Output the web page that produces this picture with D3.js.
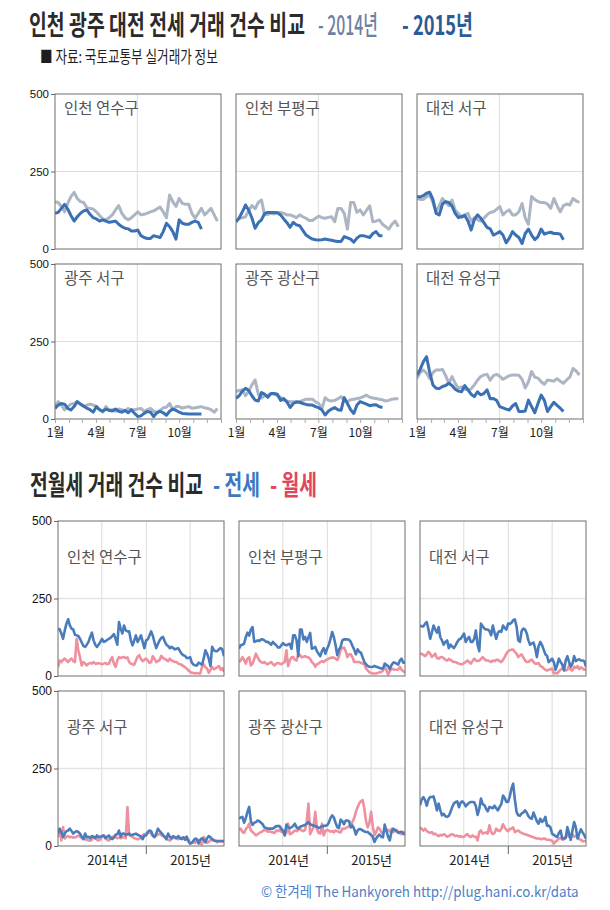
<!DOCTYPE html>
<html><head><meta charset="utf-8">
<script src="https://cdn.jsdelivr.net/npm/d3@7"></script>
<style>
body{margin:0;background:#fff;}
svg{display:block;}
text{font-family:"Noto Sans CJK KR","Liberation Sans",sans-serif;}
.num{font-family:"Liberation Sans","Noto Sans CJK KR",sans-serif;}
</style></head>
<body>
<svg id="chart" width="610" height="910"></svg>
<script>
// ---------- data ----------
const districts = ["인천 연수구","인천 부평구","대전 서구","광주 서구","광주 광산구","대전 유성구"];
const monthLabels = ["1월","4월","7월","10월"];
const yearLabels = ["2014년","2015년"];
const yTicks = [0,250,500];

// weekly 전세 counts, 2014 (52 weeks)
const jeonse2014_yeonsu   = [153,150,137,120,147,169,183,163,153,150,133,131,129,120,108,97,94,101,110,126,140,115,101,94,101,110,120,110,112,116,120,123,129,135,120,101,174,153,137,163,147,144,144,115,99,115,131,110,120,131,110,90];
const jeonse2014_bupyeong = [88,99,101,104,125,140,130,150,158,110,112,115,113,118,118,115,110,110,106,101,110,104,99,92,92,99,106,101,99,102,104,88,131,131,115,64,150,150,118,126,110,125,139,88,90,94,80,72,64,80,90,72];
const jeonse2014_djseo    = [163,160,160,169,174,150,120,140,163,150,140,158,125,115,101,110,115,90,101,95,90,99,110,118,120,128,137,110,120,126,110,110,120,147,100,80,169,160,153,150,150,145,131,163,140,120,140,145,142,163,155,150];
const jeonse2014_gjseo    = [40,56,45,29,40,48,50,56,48,40,45,48,45,40,30,22,40,28,30,25,32,30,25,34,28,30,32,34,25,30,34,25,22,28,36,38,50,30,40,40,35,38,40,35,36,38,40,36,34,30,22,34];
const jeonse2014_gwangsan = [88,92,94,75,90,110,126,80,68,75,77,82,80,75,70,60,58,56,56,56,56,60,64,64,64,55,50,34,69,60,58,60,65,72,60,56,62,64,66,68,72,77,70,68,66,64,62,58,60,64,65,65];
const jeonse2014_yuseong  = [131,150,158,148,130,150,158,158,160,140,115,137,115,99,104,96,94,97,110,125,137,142,144,125,140,144,138,128,134,140,142,142,141,128,100,120,153,135,132,120,112,126,124,122,130,122,115,126,135,163,155,142];

// weekly 전세 counts, 2015 (47 weeks)
const jeonse2015_yeonsu   = [115,118,131,144,129,108,90,104,115,123,126,112,101,97,90,94,90,86,88,90,80,72,67,65,58,58,61,43,37,34,34,43,40,37,56,83,72,56,32,94,83,80,80,86,90,86,64];
const jeonse2015_bupyeong = [88,100,120,142,125,100,67,85,94,115,118,118,118,117,110,97,85,70,86,78,75,60,45,38,32,30,29,30,32,30,28,26,24,24,40,36,32,22,35,43,43,40,37,50,56,43,43];
const jeonse2015_djseo    = [169,168,172,180,183,160,115,110,145,153,150,138,115,101,105,108,90,61,95,110,100,85,70,65,45,50,56,45,20,35,56,45,37,18,50,64,45,30,40,64,48,52,54,50,50,48,30];
const jeonse2015_gjseo    = [34,45,50,48,34,29,40,56,48,42,35,30,22,40,30,25,32,28,26,32,25,22,28,20,30,18,8,10,18,24,22,8,20,25,20,12,25,32,28,22,18,17,16,16,16,16,16];
const jeonse2015_gwangsan = [67,75,90,99,92,75,61,58,85,80,70,82,82,80,60,66,55,37,50,55,54,50,47,45,45,40,36,29,13,25,32,37,30,28,69,50,30,18,45,56,52,48,43,45,46,40,37];
const jeonse2015_yuseong  = [142,160,185,201,150,110,99,98,105,108,115,108,96,90,88,108,94,80,72,88,78,82,94,65,66,60,40,36,32,29,42,50,24,24,26,61,40,20,50,77,60,24,40,54,44,35,24];

// weekly 월세 counts, 2014-01 to 2015-11 (99 weeks)
const wolse_yeonsu   = [29,50,45,52,56,50,45,52,56,48,45,120,83,60,34,45,40,34,40,42,40,45,40,40,42,40,38,40,42,38,40,52,61,40,29,50,61,58,60,61,58,60,45,40,38,36,50,62,67,55,48,52,56,50,42,45,64,55,45,48,52,65,58,55,52,48,56,50,48,45,45,40,38,36,32,28,24,18,13,10,10,8,10,8,8,30,38,28,24,10,20,29,22,24,28,32,20,25,14];
const wolse_bupyeong = [45,50,61,52,40,56,61,34,40,55,72,60,50,45,42,45,40,38,42,45,38,34,40,42,40,38,42,45,83,32,50,60,61,52,50,70,68,60,62,64,61,60,55,45,40,30,38,40,45,48,45,50,53,56,58,60,59,56,52,62,85,90,92,80,61,70,70,60,45,45,45,45,42,40,38,24,18,12,10,8,8,8,10,12,13,18,29,20,5,15,24,22,20,20,21,29,20,15,12];
const wolse_djseo    = [70,72,68,64,70,78,72,62,66,72,58,56,60,61,58,52,50,55,52,48,45,45,42,40,38,38,42,45,50,45,40,48,56,50,48,50,55,61,55,50,50,48,45,50,48,52,52,48,45,52,61,72,80,83,85,85,78,72,61,66,70,60,50,45,45,50,53,45,40,40,42,32,30,24,20,18,20,22,24,8,10,8,15,20,24,22,18,20,34,20,18,30,26,32,22,28,24,20,24];
const wolse_gjseo    = [29,50,18,61,24,30,32,28,30,27,28,30,34,30,26,25,22,20,18,17,20,29,28,20,18,21,30,34,28,20,18,25,30,27,29,25,27,25,28,29,25,126,35,32,29,25,24,22,23,28,35,38,40,42,45,40,32,29,33,38,38,35,32,29,25,20,18,22,29,25,24,22,25,27,26,27,20,14,8,10,13,10,20,18,8,5,29,20,10,13,20,19,20,15,12,14,16,14,15];
const wolse_gwangsan = [51,56,45,42,55,60,72,50,45,40,34,38,42,45,48,52,50,46,48,45,44,42,50,48,52,46,44,40,42,72,38,40,45,50,48,52,55,50,48,52,80,137,38,50,60,110,55,42,40,72,34,48,52,50,46,48,44,50,48,45,44,56,55,58,60,65,62,78,90,110,125,137,145,148,120,80,60,75,110,62,35,45,60,55,45,40,48,50,52,47,55,45,48,52,45,40,38,45,40];
const wolse_yuseong  = [61,55,50,56,48,45,42,45,38,40,35,32,36,34,38,35,30,32,36,38,35,32,34,30,32,29,30,35,38,32,29,34,30,30,18,45,50,40,42,44,40,67,45,38,42,56,50,48,55,70,60,52,48,55,56,60,45,48,50,45,42,40,38,36,34,32,30,28,26,24,24,23,22,24,23,20,20,19,17,8,14,18,24,26,20,22,30,35,30,26,38,30,32,30,22,20,15,16,16];

const jeonse2014 = [jeonse2014_yeonsu,jeonse2014_bupyeong,jeonse2014_djseo,jeonse2014_gjseo,jeonse2014_gwangsan,jeonse2014_yuseong];
const jeonse2015 = [jeonse2015_yeonsu,jeonse2015_bupyeong,jeonse2015_djseo,jeonse2015_gjseo,jeonse2015_gwangsan,jeonse2015_yuseong];
const wolse = [wolse_yeonsu,wolse_bupyeong,wolse_djseo,wolse_gjseo,wolse_gwangsan,wolse_yuseong];

// ---------- drawing ----------
const svg = d3.select("#chart");
svg.append("rect").attr("width",610).attr("height",910).attr("fill","#fff");

const C = {grid:"#dcdcdc", border:"#6e6e6e", y14:"#abb5c3", y15:"#3a70b4",
           jeon:"#4a7cbb", wol:"#ee909d"};
const start = new Date(2014,0,1);
const weekDate = i => d3.timeDay.offset(start, 7*i);

// text squeezed horizontally to a target width (condensed look of the original)
function fitText(x, y, t, w, fs, fill, fw){
  const g = svg.append("g");
  const el = g.append("text").attr("x",0).attr("y",0).text(t)
    .attr("font-size",fs).attr("font-weight",fw).attr("fill",fill);
  const nat = el.node().getComputedTextLength();
  g.attr("transform",`translate(${x},${y}) scale(${w/nat},1)`);
}
fitText(29,35,"인천 광주 대전 전세 거래 건수 비교",276,27,"#2b2b2b",700);
fitText(318,35,"- 2014년",60,27,"#6e80a2",500);
fitText(402,35,"- 2015년",71,27,"#2a5b95",700);
fitText(40,63,"■ 자료: 국토교통부 실거래가 정보",178,16.5,"#1e1e1e",400);
fitText(30,495,"전월세 거래 건수 비교",173,27,"#2b2b2b",700);
fitText(213,495,"- 전세",47,27,"#3d78bf",700);
fitText(270,495,"- 월세",47,27,"#e2445e",700);

// ----- top section: year-over-year -----
const topCols=[55,236,417], topRows=[94,264], PW=166, PH=155;
const xTop = d3.scaleTime().domain([new Date(2014,0,1),new Date(2015,0,1)]).range([0,PW]);
const yTop = d3.scaleLinear().domain([0,500]).range([PH,0]);
const lineTop = d3.line().x((d,i)=>xTop(weekDate(i))).y(d=>yTop(d));

districts.forEach((name,k)=>{
  const col=k%3,row=Math.floor(k/3);
  const g=svg.append("g").attr("transform",`translate(${topCols[col]},${topRows[row]})`);
  g.append("line").attr("x1",0).attr("x2",PW).attr("y1",yTop(250)).attr("y2",yTop(250)).attr("stroke",C.grid);
  g.append("line").attr("x1",xTop(new Date(2014,6,1))).attr("x2",xTop(new Date(2014,6,1))).attr("y1",0).attr("y2",PH).attr("stroke",C.grid);
  const clipId="ct"+k;
  g.append("clipPath").attr("id",clipId).append("rect").attr("width",PW).attr("height",PH);
  const lg=g.append("g").attr("clip-path",`url(#${clipId})`);
  lg.append("path").datum(jeonse2014[k]).attr("d",lineTop).attr("fill","none")
    .attr("stroke",C.y14).attr("stroke-width",3).attr("stroke-linejoin","round");
  lg.append("path").datum(jeonse2015[k]).attr("d",lineTop).attr("fill","none")
    .attr("stroke",C.y15).attr("stroke-width",3).attr("stroke-linejoin","round");
  g.append("rect").attr("width",PW).attr("height",PH).attr("fill","none").attr("stroke",C.border);
  g.append("text").attr("x",9).attr("y",20).text(name).attr("font-size",15.5).attr("fill","#555");
  if(col===0){
    const ya=g.append("g").call(d3.axisLeft(yTop).tickValues(yTicks).tickSize(4).tickPadding(2));
    ya.select(".domain").remove();
    ya.selectAll("line").attr("stroke","#666");
    ya.selectAll("text").attr("class","num").attr("font-size",11.5).attr("fill","#111");
  }
  if(row===1){
    const xa=g.append("g").attr("transform",`translate(0,${PH})`)
      .call(d3.axisBottom(xTop).ticks(d3.timeMonth.every(1)).tickSize(4)
        .tickFormat(d=>{const m=d.getMonth();return (m%3===0 && d.getFullYear()===2014)?monthLabels[m/3]:"";}));
    xa.select(".domain").remove();
    xa.selectAll("line").attr("stroke","#aaa");
    xa.selectAll("text").attr("font-size",12).attr("fill","#222").attr("dy","0.9em");
  }
});

// ----- bottom section: 전세 vs 월세 -----
const botCols=[58,239,420], botRows=[521,691];
const xBot = d3.scaleTime().domain([start, weekDate(98)]).range([0,PW]);
const yBot = d3.scaleLinear().domain([0,500]).range([PH,0]);
const lineBot = d3.line().x((d,i)=>xBot(weekDate(i))).y(d=>yBot(d));

districts.forEach((name,k)=>{
  const col=k%3,row=Math.floor(k/3);
  const g=svg.append("g").attr("transform",`translate(${botCols[col]},${botRows[row]})`);
  g.append("line").attr("x1",0).attr("x2",PW).attr("y1",yBot(250)).attr("y2",yBot(250)).attr("stroke","#e4e4e4").attr("stroke-width",1.5);
  [new Date(2014,6,1),new Date(2015,0,1),new Date(2015,6,1)].forEach(d=>{
    g.append("line").attr("x1",xBot(d)).attr("x2",xBot(d)).attr("y1",0).attr("y2",PH).attr("stroke",C.grid);
  });
  const clipId="cb"+k;
  g.append("clipPath").attr("id",clipId).append("rect").attr("width",PW).attr("height",PH);
  const lg=g.append("g").attr("clip-path",`url(#${clipId})`);
  const jeon = jeonse2014[k].concat(jeonse2015[k]);
  lg.append("path").datum(wolse[k]).attr("d",lineBot).attr("fill","none")
    .attr("stroke",C.wol).attr("stroke-width",2.6).attr("stroke-linejoin","round");
  lg.append("path").datum(jeon).attr("d",lineBot).attr("fill","none")
    .attr("stroke",C.jeon).attr("stroke-width",2.6).attr("stroke-linejoin","round");
  g.append("rect").attr("width",PW).attr("height",PH).attr("fill","none").attr("stroke",C.border);
  g.append("text").attr("x",9).attr("y",42).text(name).attr("font-size",15.5).attr("fill","#555");
  if(col===0){
    const ya=g.append("g").call(d3.axisLeft(yBot).tickValues(yTicks).tickSize(4).tickPadding(2));
    ya.select(".domain").remove();
    ya.selectAll("line").attr("stroke","#666");
    ya.selectAll("text").attr("class","num").attr("font-size",12).attr("fill","#111");
  }
  if(row===1){
    const xa=g.append("g").attr("transform",`translate(0,${PH})`);
    xa.append("line").attr("x1",xBot(new Date(2015,0,1))).attr("x2",xBot(new Date(2015,0,1)))
      .attr("y1",0).attr("y2",8).attr("stroke","#666");
    const labelDates=[new Date(2014,6,25),new Date(2015,6,3)];
    yearLabels.forEach((t,i)=>{
      xa.append("text").attr("x",xBot(labelDates[i])).attr("y",19).attr("text-anchor","middle")
        .attr("font-size",13).attr("fill","#222").text(t);
    });
  }
});

// footer
(function(){
  const g = svg.append("g");
  const el = g.append("text").attr("x",0).attr("y",0).attr("font-size",14.5).attr("fill","#4d80c6")
    .text("© 한겨레 The Hankyoreh http://plug.hani.co.kr/data");
  const nat = el.node().getComputedTextLength();
  g.attr("transform",`translate(261,897) scale(${318/nat},1)`);
})();
</script>
</body></html>
